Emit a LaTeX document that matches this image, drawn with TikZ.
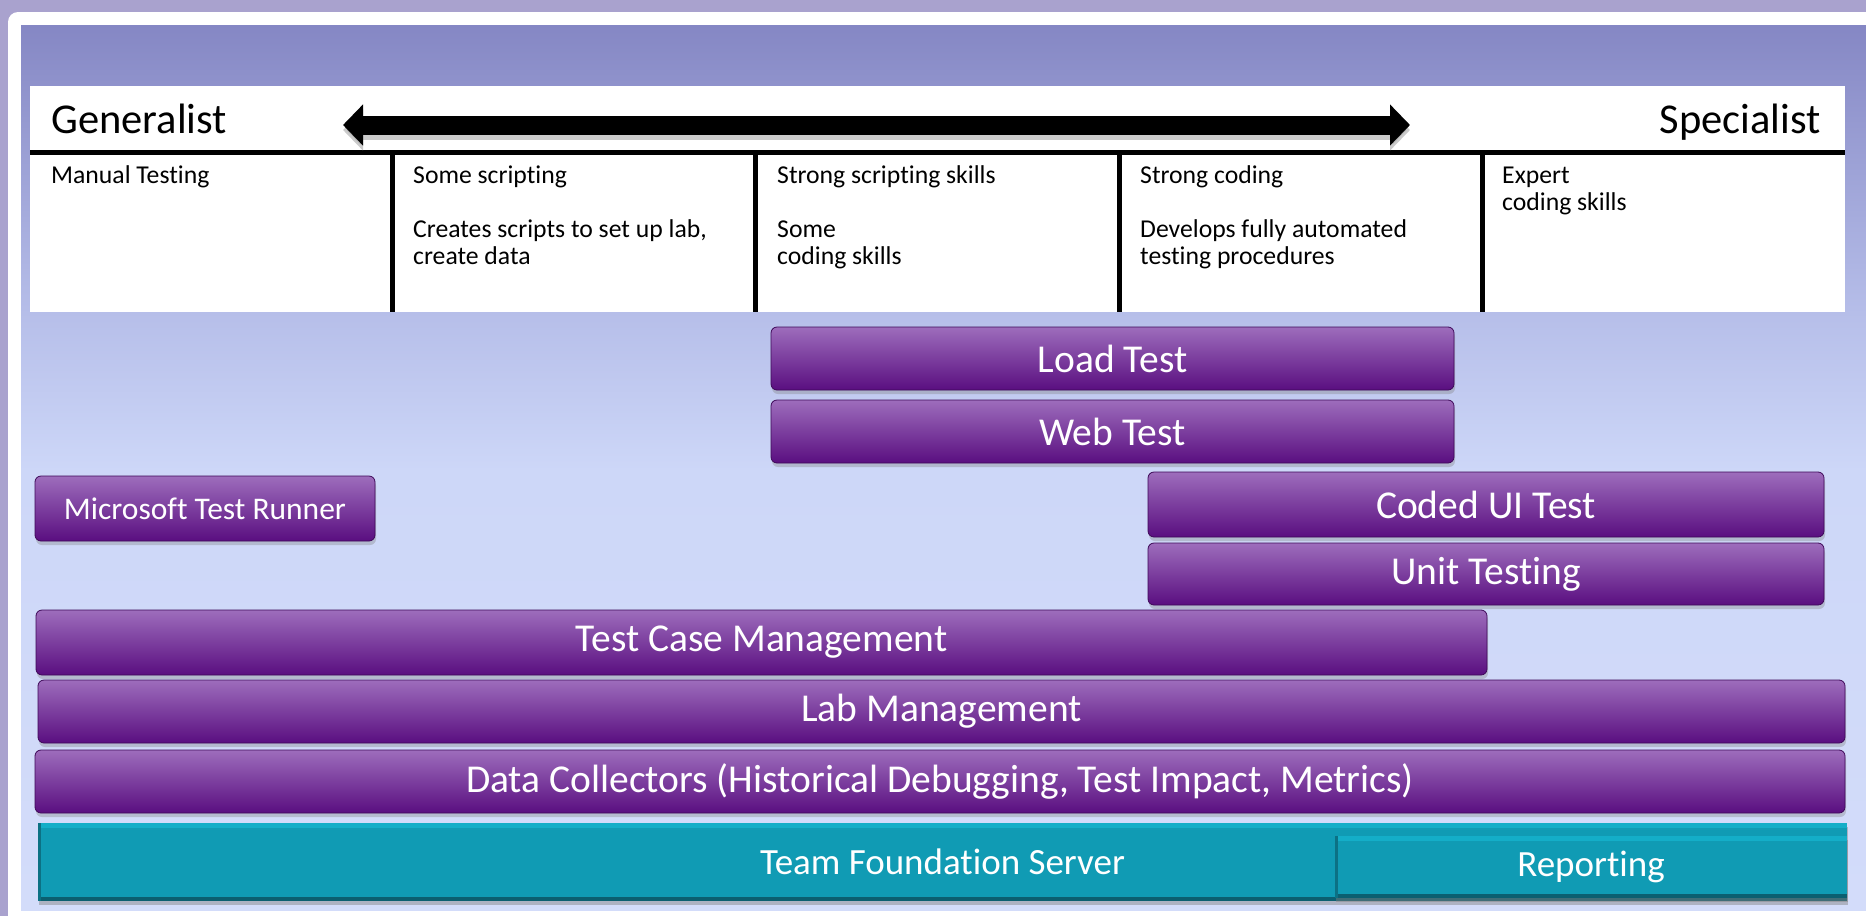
\documentclass[tikz,border=0pt]{standalone}
\usepackage{fontspec}
\setmainfont{Carlito}[Ligatures=NoCommon]
\usetikzlibrary{arrows.meta,shadows}
\definecolor{frameLav}{HTML}{A9A2CE}
\definecolor{panelTop}{HTML}{8587C4}
\definecolor{panelUp}{HTML}{B6BEE9}
\definecolor{panelMid}{HTML}{CDD7F8}
\definecolor{panelBot}{HTML}{D3DCFA}
\definecolor{barTop}{HTML}{9D6DBC}
\definecolor{barBot}{HTML}{5A0E80}
\definecolor{barEdge}{HTML}{3E0858}
\definecolor{tealMain}{HTML}{109BB4}
\definecolor{tealLight}{HTML}{14AEC8}
\definecolor{tealDark}{HTML}{0B5F70}
\tikzstyle{bar}=[rounded corners=6pt,top color=barTop,bottom color=barBot,draw=barEdge,line width=0.8pt,text=white,inner sep=0pt,font=\fontsize{39.5}{40}\selectfont,drop shadow={shadow xshift=1pt,shadow yshift=-4pt,opacity=0.35}]
\tikzstyle{slab}=[fill=tealMain,text=white,inner sep=0pt,font=\fontsize{37}{38}\selectfont,drop shadow={shadow xshift=1pt,shadow yshift=-4pt,opacity=0.45},
  path picture={\fill[tealLight] (path picture bounding box.north west) rectangle ([yshift=-5pt]path picture bounding box.north east);
                \fill[tealDark] (path picture bounding box.south west) rectangle ([yshift=4pt]path picture bounding box.south east);
                \fill[tealDark!70!tealMain] (path picture bounding box.south west) rectangle ([xshift=3pt]path picture bounding box.north west);}]
\tikzstyle{cell}=[anchor=base west,align=left,inner sep=0pt,font=\fontsize{25.7}{27}\selectfont]
\tikzstyle{rule}=[line width=5pt]

\begin{document}
\begin{tikzpicture}[x=1pt,y=-1pt]
        \useasboundingbox (0,0) rectangle (1866,916);
        \clip (0,0) rectangle (1866,916);
        % frame and panel
        \fill[frameLav] (0,0) rectangle (1866,916);
        \fill[white,rounded corners=10pt] (8,12) rectangle (1900,950);
        \shade[top color=panelTop,bottom color=panelUp] (21,25) rectangle (1866,313);
        \shade[top color=panelUp,bottom color=panelMid] (21,312) rectangle (1866,471);
        \shade[top color=panelMid,bottom color=panelBot] (21,470) rectangle (1866,910);
        % table
        \fill[white] (30,86) rectangle (1845,312);
        \draw[rule] (30,152) -- (1845,152);
        \foreach \x in {392,755,1119,1482}
          \draw[rule] (\x,152) -- (\x,312);
        \node[anchor=base west,inner sep=0pt,font=\fontsize{42.5}{43}\selectfont] (gen) at (51,133) {Generalist};
        \node[anchor=base east,inner sep=0pt,font=\fontsize{42.5}{43}\selectfont] (spec) at (1821,133) {Specialist};
        \coordinate (arrL) at (343,125);
        \coordinate (arrR) at (1410,125);
        \draw[line width=19pt,black!40,opacity=0.5,{Triangle[length=20pt,width=40pt]}-{Triangle[length=20pt,width=40pt]}] ([yshift=-5pt]arrL) -- ([yshift=-5pt]arrR);
        \draw[line width=19pt,{Triangle[length=20pt,width=40pt]}-{Triangle[length=20pt,width=40pt]}] (arrL) -- (arrR);
        % base of a cell is the baseline of its last line
        \node[cell] (manual) at (51,183) {Manual Testing};
        \node[cell] (somescr) at (413,264) {Some scripting\\[27pt]Creates scripts to set up lab,\\create data};
        \node[cell] (strongscr) at (777,264) {Strong scripting skills\\[27pt]Some\\coding skills};
        \node[cell] (strongcode) at (1140,264) {Strong coding\\[27pt]Develops fully automated\\testing procedures};
        \node[cell] (expert) at (1502,210) {Expert\\coding skills};
        % tools
        \node[bar,minimum width=683pt,minimum height=63pt] (load) at (1112.5,358.5) {Load Test};
        \node[bar,minimum width=683pt,minimum height=63pt] (web) at (1112.5,431.5) {Web Test};
        \node[bar,minimum width=340pt,minimum height=65pt,font=\fontsize{31.5}{32}\selectfont] (runner) at (205,508.5) {Microsoft Test Runner};
        \node[bar,minimum width=676pt,minimum height=65pt] (coded) at (1486,504.5) {Coded UI Test};
        \node[bar,minimum width=676pt,minimum height=62pt] (unit) at (1486,574) {Unit Testing};
        \node[bar,minimum width=1451pt,minimum height=65pt] (tcm) at (761.5,642.5) {Test Case Management};
        \node[bar,minimum width=1807pt,minimum height=63pt] (lab) at (941.5,711.5) {Lab Management};
        \node[bar,minimum width=1810pt,minimum height=63pt] (data) at (940,781.5) {Data Collectors (Historical Debugging, Test Impact, Metrics)};
        % server
        \node[slab,minimum width=1809pt,minimum height=78pt] (tfs) at (942.5,862) {Team Foundation Server};
        \node[slab,minimum width=512pt,minimum height=62pt] (report) at (1591,867) {Reporting};
\end{tikzpicture}
\end{document}
